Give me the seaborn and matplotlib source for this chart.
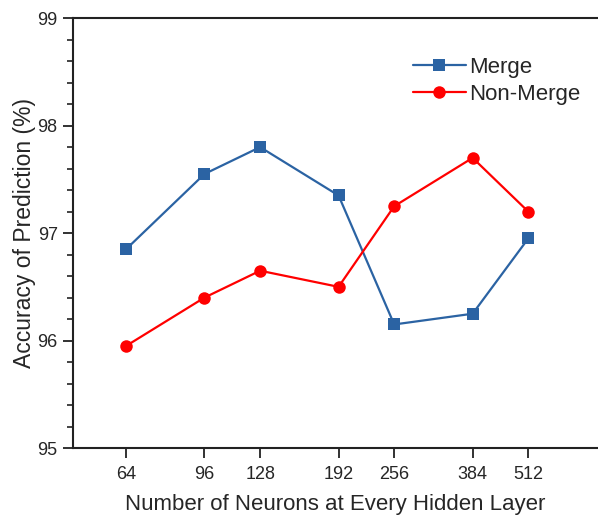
import matplotlib
matplotlib.use("Agg")
import matplotlib.pyplot as plt
from matplotlib.ticker import FixedLocator, FixedFormatter, NullLocator, MultipleLocator
import seaborn as sns
import pandas as pd

neurons = [64, 96, 128, 192, 256, 384, 512]
tick_labels = ["64", "96", "128", "192", "256", "384", "512"]
merge = [96.85, 97.55, 97.80, 97.35, 96.15, 96.25, 96.95]
non_merge = [95.95, 96.40, 96.65, 96.50, 97.25, 97.70, 97.20]
series_names = ["Merge", "Non-Merge"]

df = pd.concat([
    pd.DataFrame({"neurons": neurons, "acc": merge, "series": series_names[0]}),
    pd.DataFrame({"neurons": neurons, "acc": non_merge, "series": series_names[1]}),
])

sns.set_style("ticks")
plt.rcParams["font.family"] = ["Liberation Sans", "DejaVu Sans"]

fig = plt.figure(figsize=(5.98, 5.18), dpi=100)
ax = fig.add_axes([0.122, 0.135, 0.878, 0.830])

palette = {"Merge": "#2b63a3", "Non-Merge": "#ff0000"}
sns.lineplot(data=df, x="neurons", y="acc", hue="series", style="series",
             markers={"Merge": "s", "Non-Merge": "o"}, dashes=False,
             palette=palette, linewidth=1.6, markersize=9,
             markeredgewidth=0, ax=ax)

ax.set_xscale("log", base=2)
ax.set_xlim(2 ** 5.604, 2 ** 9.52)
ax.xaxis.set_major_locator(FixedLocator(neurons))
ax.xaxis.set_major_formatter(FixedFormatter(tick_labels))
ax.xaxis.set_minor_locator(NullLocator())

ax.set_ylim(95, 99)
ax.yaxis.set_major_locator(MultipleLocator(1))
ax.yaxis.set_minor_locator(MultipleLocator(0.2))

for side in ["left", "bottom", "top"]:
    ax.spines[side].set_linewidth(1.5)
    ax.spines[side].set_color("#222222")
ax.spines["right"].set_visible(False)

ax.tick_params(axis="both", which="major", direction="out", length=7,
               width=1.3, labelsize=13, color="#222222", pad=6)
ax.tick_params(axis="y", which="major", pad=4)
ax.tick_params(axis="y", which="minor", direction="out", length=4, width=1.2,
               color="#222222")
ax.tick_params(top=False, right=False, which="both")

ax.set_xlabel("Number of Neurons at Every Hidden Layer", fontsize=16, labelpad=8)
ax.set_ylabel("Accuracy of Prediction (%)", fontsize=16.5, labelpad=1)

leg = ax.legend(loc="upper left", bbox_to_anchor=(0.63, 0.93), frameon=False,
                fontsize=16, handlelength=2.4, handletextpad=0.15,
                labelspacing=0.25, borderaxespad=0)

fig.savefig("out.png", dpi=100)
